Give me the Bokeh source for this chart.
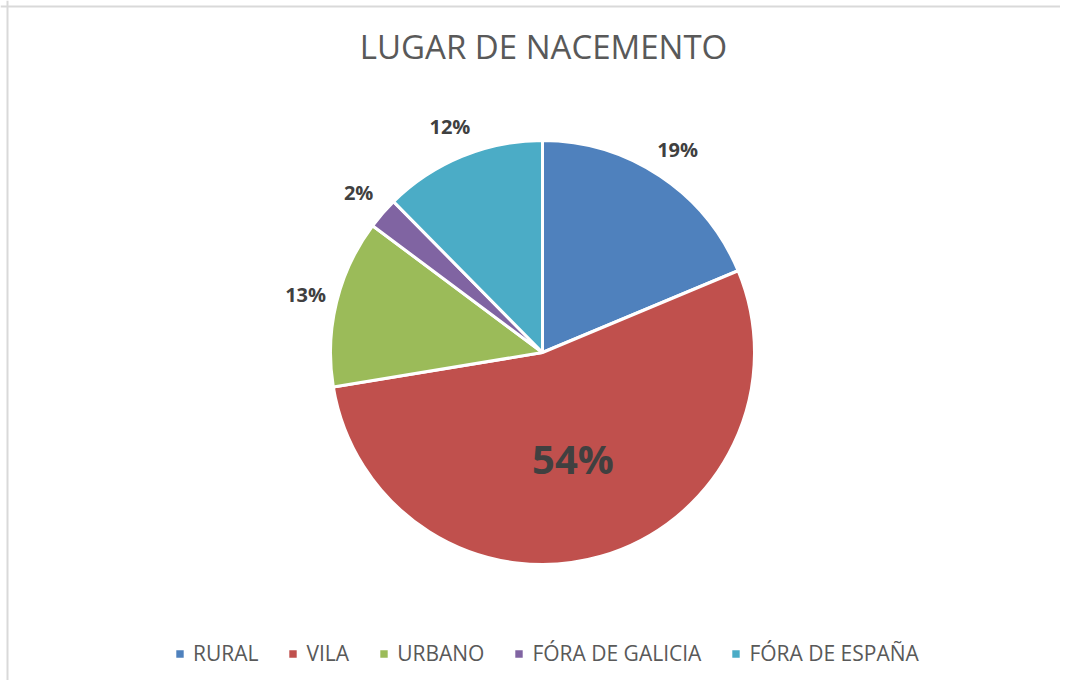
import numpy as np
from bokeh.plotting import figure
from bokeh.models import ColumnDataSource, Range1d, Label, Span
from bokeh.core.properties import value
from bokeh.embed import file_html
from bokeh.resources import INLINE

# ---- data ----
categories = ["RURAL", "VILA", "URBANO", "FÓRA DE GALICIA", "FÓRA DE ESPAÑA"]
values = [18.7, 53.7, 12.8, 2.4, 12.4]
colors = ["#4F81BD", "#C0504D", "#9BBB59", "#8064A2", "#4BACC6"]
title_text = "LUGAR DE NACEMENTO"

# ---- geometry (clockwise from 12 o'clock) ----
vals = np.array(values, dtype=float)
frac = vals / vals.sum()
cum = np.concatenate([[0.0], np.cumsum(frac)])
start = np.pi / 2 - 2 * np.pi * cum[1:]
end = np.pi / 2 - 2 * np.pi * cum[:-1]
mid = (start + end) / 2

src = ColumnDataSource(dict(cat=categories, start=start, end=end, color=colors))

label_r = np.where(frac > 0.5, 0.52, 1.15)
lab_src = ColumnDataSource(dict(
    x=label_r * np.cos(mid),
    y=label_r * np.sin(mid),
    text=[f"{round(f * 100)}%" for f in frac],
    fs=["40px" if f > 0.5 else "20px" for f in frac],
))

W, H = 1060, 680
R_PX = 212.0
cx_px, cy_px = 542.0, 352.0   # pie centre within the canvas
x0 = -cx_px / R_PX
x1 = x0 + W / R_PX
y1 = cy_px / R_PX
y0 = y1 - H / R_PX

p = figure(width=W, height=H, x_range=Range1d(x0, x1), y_range=Range1d(y0, y1),
           output_backend="svg", toolbar_location=None, min_border=0,
           x_axis_location=None, y_axis_location=None, outline_line_color=None,
           background_fill_color="white", border_fill_color="white")
p.grid.visible = False

p.wedge(x=0, y=0, radius=1, start_angle="start", end_angle="end",
        fill_color="color", line_color="white", line_width=3,
        source=src, legend_field="cat")

p.text(x="x", y="y", text="text", source=lab_src, text_font=value("Open Sans"),
       text_font_style="bold", text_font_size="fs", text_color="#404040",
       text_align="center", text_baseline="middle")

lg = p.legend[0]
lg.orientation = "horizontal"
lg.location = (173, 13)
lg.border_line_color = None
lg.background_fill_alpha = 0
lg.padding = 0
lg.margin = 0
lg.glyph_width = 13
lg.glyph_height = 13
lg.label_standoff = 7
lg.spacing = 28
lg.label_text_font = "Open Sans"
lg.label_text_font_size = "21px"
lg.label_text_color = "#595959"

p.add_layout(Label(x=543, y=634, x_units="screen", y_units="screen", text=title_text,
                   text_font="Open Sans", text_font_size="33px", text_color="#595959",
                   text_align="center", text_baseline="alphabetic"))

p.add_layout(Span(location=(7 - cx_px) / R_PX, dimension="height", line_color="#d9d9d9", line_width=2))
p.add_layout(Span(location=(cy_px - 6) / R_PX, dimension="width", line_color="#d9d9d9", line_width=2))

open("out.html", "w").write(file_html(p, INLINE))
